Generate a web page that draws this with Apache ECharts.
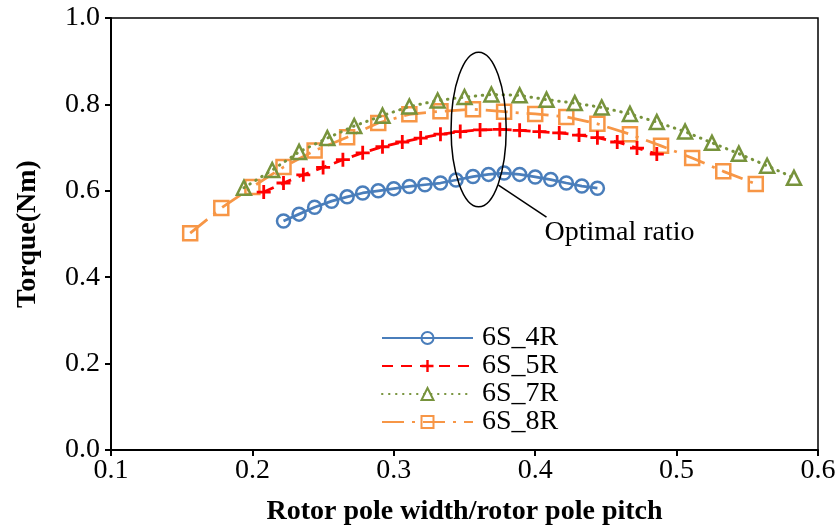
<!DOCTYPE html>
<html>
<head>
<meta charset="utf-8">
<script src="https://cdn.jsdelivr.net/npm/echarts@6/dist/echarts.min.js"></script>
<style>
html,body{margin:0;padding:0;background:#fff;}
#chart{width:839px;height:529px;}
</style>
</head>
<body>
<div id="chart"></div>
<script>
// ---- data ----
var x4R = [0.222,0.233,0.244,0.256,0.267,0.278,0.289,0.300,0.311,0.322,0.333,0.344,0.356,0.367,0.378,0.389,0.400,0.411,0.422,0.433,0.444];
var y4R = [0.530,0.546,0.562,0.576,0.586,0.595,0.600,0.605,0.610,0.614,0.618,0.625,0.633,0.638,0.641,0.638,0.632,0.626,0.618,0.611,0.606];

var x5R = [0.208,0.222,0.236,0.250,0.264,0.278,0.292,0.306,0.319,0.333,0.347,0.361,0.375,0.389,0.403,0.417,0.431,0.444,0.458,0.472,0.486];
var y5R = [0.597,0.618,0.637,0.654,0.672,0.688,0.702,0.713,0.722,0.731,0.737,0.741,0.742,0.740,0.737,0.734,0.729,0.723,0.713,0.699,0.685];

var x7R = [0.194,0.214,0.233,0.253,0.272,0.292,0.311,0.331,0.350,0.369,0.389,0.408,0.428,0.447,0.467,0.486,0.506,0.525,0.544,0.564,0.583];
var y7R = [0.607,0.648,0.690,0.722,0.750,0.774,0.795,0.809,0.817,0.823,0.821,0.811,0.803,0.793,0.778,0.759,0.737,0.711,0.686,0.658,0.630];

var x8R = [0.156,0.178,0.200,0.222,0.244,0.267,0.289,0.311,0.333,0.356,0.378,0.400,0.422,0.444,0.467,0.489,0.511,0.533,0.556];
var y8R = [0.502,0.560,0.609,0.655,0.693,0.724,0.757,0.777,0.784,0.789,0.783,0.778,0.771,0.755,0.731,0.704,0.676,0.645,0.616];

var seriesNames = ['6S_4R','6S_5R','6S_7R','6S_8R'];
var xTickLabels = ['0.1','0.2','0.3','0.4','0.5','0.6'];
var yTickLabels = ['0.0','0.2','0.4','0.6','0.8','1.0'];
var annotationText = 'Optimal ratio';
var ellipseCenter = [0.360, 0.742]; // data coords
var ellipseTop = [0.360, 0.921];
var ellipseRight = [0.3795, 0.742];
var leaderFrom = [0.374, 0.613];
var leaderTo = [0.408, 0.539];

function pairs(xs, ys){ var r=[]; for(var i=0;i<xs.length;i++) r.push([xs[i], ys[i]]); return r; }

var FONT = '"Liberation Serif","Times New Roman",serif';
var FS = 28;
var chart = echarts.init(document.getElementById('chart'), null, {renderer:'canvas'});

var plusPath = 'path://M4,0H6V4H10V6H6V10H4V6H0V4H4Z';

var option = {
  animation: false,
  backgroundColor: '#fff',
  grid: { left: 111, right: 21, top: 18, bottom: 79, outerBoundsMode: 'none', containLabel: false,
          show: true, borderColor: '#000', borderWidth: 1.5 },
  xAxis: {
    type: 'value', min: 0.1, max: 0.6, interval: 0.1,
    name: 'Rotor pole width/rotor pole pitch', nameLocation: 'middle', nameGap: 48,
    nameTextStyle: { fontFamily: FONT, fontSize: FS, fontWeight: 'bold', color: '#000' },
    axisLine: { show: true, onZero: false, lineStyle: { color: '#000', width: 2 } },
    axisTick: { show: true, inside: false, length: 6, lineStyle: { color: '#000', width: 2 } },
    axisLabel: { fontFamily: FONT, fontSize: FS, color: '#000', margin: 7,
      formatter: function(v){ var i = Math.round((v-0.1)/0.1); return xTickLabels[i]; } },
    splitLine: { show: false }
  },
  yAxis: {
    type: 'value', min: 0, max: 1.0, interval: 0.2,
    name: 'Torque(Nm)', nameLocation: 'middle', nameGap: 69, nameRotate: 90,
    nameTextStyle: { fontFamily: FONT, fontSize: FS, fontWeight: 'bold', color: '#000' },
    axisLine: { show: true, lineStyle: { color: '#000', width: 2 } },
    axisTick: { show: true, inside: false, length: 6, lineStyle: { color: '#000', width: 2 } },
    axisLabel: { fontFamily: FONT, fontSize: FS, color: '#000', margin: 11,
      formatter: function(v){ var i = Math.round(v/0.2); return yTickLabels[i]; } },
    splitLine: { show: false }
  },
  legend: {
    orient: 'vertical', left: 381, top: 324, padding: 0, itemWidth: 91, itemHeight: 15, itemGap: 0,
    textStyle: { fontFamily: FONT, fontSize: FS, color: '#000', lineHeight: 28, padding: [0,0,0,4] },
    data: seriesNames
  },
  series: [
    { name: seriesNames[0], type: 'line', data: pairs(x4R, y4R),
      symbol: 'circle', symbolSize: 13,
      itemStyle: { color: 'rgba(0,0,0,0)', borderColor: '#4a7ebb', borderWidth: 2.5 },
      lineStyle: { color: '#4a7ebb', width: 2.75, type: 'solid' }, z: 5 },
    { name: seriesNames[1], type: 'line', data: pairs(x5R, y5R),
      symbol: plusPath, symbolSize: 14,
      itemStyle: { color: '#ff0000' },
      lineStyle: { color: '#ff0000', width: 2.75, type: [11, 8] }, z: 4 },
    { name: seriesNames[2], type: 'line', data: pairs(x7R, y7R),
      symbol: 'triangle', symbolSize: 14,
      itemStyle: { color: 'rgba(0,0,0,0)', borderColor: '#77933c', borderWidth: 2.5 },
      lineStyle: { color: '#77933c', width: 3, type: [0.5, 6.5], cap: 'round' }, z: 3 },
    { name: seriesNames[3], type: 'line', data: pairs(x8R, y8R),
      symbol: 'rect', symbolSize: 14,
      itemStyle: { color: 'rgba(0,0,0,0)', borderColor: '#f79646', borderWidth: 2.5 },
      lineStyle: { color: '#f79646', width: 2.75, type: [22, 8, 3, 8] }, z: 2 }
  ]
};
chart.setOption(option);

function drawAnnotation(){
  var c = chart.convertToPixel({gridIndex:0}, ellipseCenter);
  var t = chart.convertToPixel({gridIndex:0}, ellipseTop);
  var r = chart.convertToPixel({gridIndex:0}, ellipseRight);
  var a = chart.convertToPixel({gridIndex:0}, leaderFrom);
  var b = chart.convertToPixel({gridIndex:0}, leaderTo);
  chart.setOption({
    graphic: [
      { type: 'ellipse', shape: { cx: c[0], cy: c[1], rx: r[0]-c[0], ry: c[1]-t[1] },
        style: { fill: 'none', stroke: '#000', lineWidth: 1.5 }, z: 100 },
      { type: 'line', shape: { x1: a[0], y1: a[1], x2: b[0], y2: b[1] },
        style: { stroke: '#000', lineWidth: 1.5 }, z: 100 },
      { type: 'text', x: b[0] - 2, y: b[1] + 15,
        style: { text: annotationText, font: FS + 'px ' + FONT, fill: '#000', textAlign: 'left', textVerticalAlign: 'middle' }, z: 100 }
    ]
  });
}
drawAnnotation();
</script>
</body>
</html>
